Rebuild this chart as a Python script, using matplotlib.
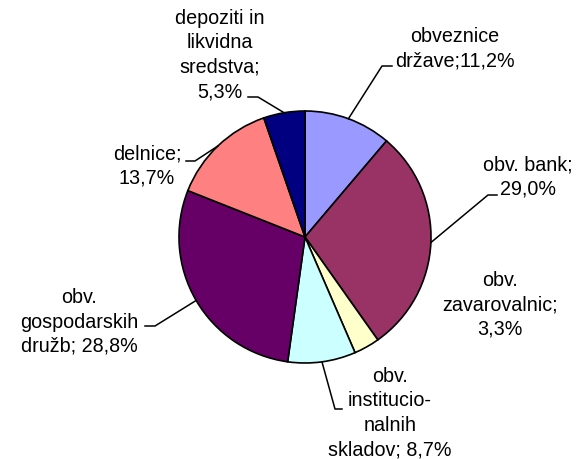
import numpy as np
import matplotlib
matplotlib.use("Agg")
import matplotlib.pyplot as plt

# Struktura naložb (deleži v %)
kategorije = ["obveznice\ndržave;11,2%",
              "obv. bank;\n29,0%",
              "obv.\nzavarovalnic;\n3,3%",
              "obv.\ninstitucio-\nnalnih\nskladov; 8,7%",
              "obv.\ngospodarskih\ndružb; 28,8%",
              "delnice;\n13,7%",
              "depoziti in\nlikvidna\nsredstva;\n5,3%"]
delezi = [11.2, 29.0, 3.3, 8.7, 28.8, 13.7, 5.3]
barve = ["#9999FF", "#993366", "#FFFFCC", "#CCFFFF", "#660066", "#FF8080", "#000080"]

# položaji oznak v pikslih (y navzdol) in lomne točke povezovalnih črt
poz_oznak = [(455, 49), (528, 177), (500, 305), (390, 413), (79, 322), (147, 166), (220, 55)]
crte = [[(392, 66), (382, 66)],
        [(497, 195), (488, 195)],
        None,
        [(342, 409), (335, 409)],
        [(145, 326), (155, 326)],
        [(186, 161), (195, 161)],
        [(248, 97), (258, 97)]]

CX, CY, R = 305, 237, 126

plt.rcParams['font.family'] = ['Liberation Sans', 'DejaVu Sans']
fig = plt.figure(figsize=(5.86, 4.59), dpi=100)
ax = fig.add_axes([0, 0, 1, 1])

# os y je obrnjena, zato counterclock=True pomeni v smeri urinega kazalca
klini, _ = ax.pie(delezi, colors=barve, startangle=-90, counterclock=True,
                  center=(CX, CY), radius=R,
                  wedgeprops=dict(edgecolor='black', linewidth=1.2))

ax.set_xlim(0, 586)
ax.set_ylim(459, 0)
ax.set_aspect('equal')
ax.axis('off')

for klin, besedilo, (tx, ty), crta in zip(klini, kategorije, poz_oznak, crte):
    ax.text(tx, ty, besedilo, ha='center', va='center', fontsize=14.2,
            linespacing=1.36)
    if crta is None:
        continue
    kot = np.deg2rad((klin.theta1 + klin.theta2) / 2)
    rob = (CX + R*np.cos(kot), CY + R*np.sin(kot))
    xs = [crta[0][0], crta[1][0], rob[0]]
    ys = [crta[0][1], crta[1][1], rob[1]]
    ax.plot(xs, ys, color='black', linewidth=1.1)

fig.savefig("out.png", dpi=100, facecolor='white')
